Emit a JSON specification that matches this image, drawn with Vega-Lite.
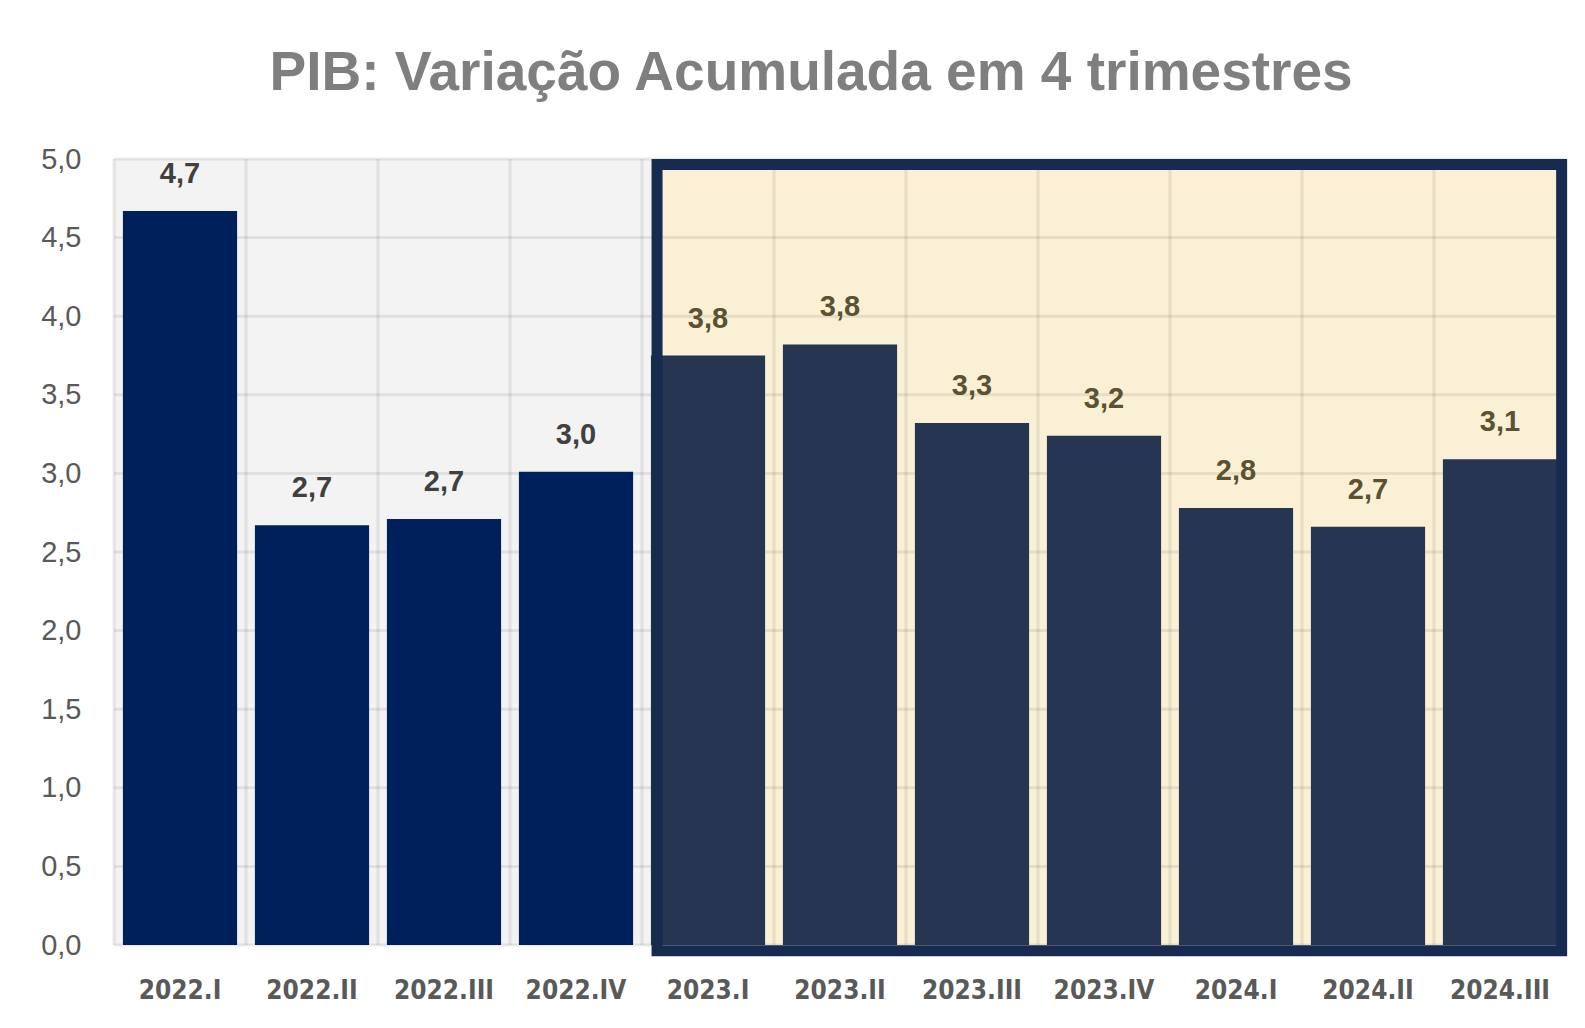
{
  "$schema": "https://vega.github.io/schema/vega-lite/v6.json",
  "autosize": {"type": "none"},
  "width": 1452,
  "height": 786,
  "padding": {"left": 114, "top": 159, "right": 19, "bottom": 83},
  "background": "white",
  "title": {
    "text": "PIB: Variação Acumulada em 4 trimestres",
    "font": "Liberation Sans",
    "fontSize": 55,
    "fontWeight": "bold",
    "color": "#7f7f7f",
    "anchor": "middle",
    "frame": "bounds",
    "baseline": "alphabetic",
    "offset": 0,
    "dx": 7
  },
  "datasets": {
    "pib": [
      {"trimestre": "2022.I", "valor": 4.67, "periodo": "2022"},
      {"trimestre": "2022.II", "valor": 2.67, "periodo": "2022"},
      {"trimestre": "2022.III", "valor": 2.71, "periodo": "2022"},
      {"trimestre": "2022.IV", "valor": 3.01, "periodo": "2022"},
      {"trimestre": "2023.I", "valor": 3.75, "periodo": "destaque"},
      {"trimestre": "2023.II", "valor": 3.82, "periodo": "destaque"},
      {"trimestre": "2023.III", "valor": 3.32, "periodo": "destaque"},
      {"trimestre": "2023.IV", "valor": 3.24, "periodo": "destaque"},
      {"trimestre": "2024.I", "valor": 2.78, "periodo": "destaque"},
      {"trimestre": "2024.II", "valor": 2.66, "periodo": "destaque"},
      {"trimestre": "2024.III", "valor": 3.09, "periodo": "destaque"}
    ],
    "regioes": [
      {"inicio": 0, "fim": 4.114, "regiao": "2022"},
      {"inicio": 4.114, "fim": 11, "regiao": "destaque"}
    ],
    "grade_h": [
      {"v": 0}, {"v": 0.5}, {"v": 1}, {"v": 1.5}, {"v": 2}, {"v": 2.5},
      {"v": 3}, {"v": 3.5}, {"v": 4}, {"v": 4.5}, {"v": 5}
    ],
    "grade_v": [
      {"b": 0}, {"b": 1}, {"b": 2}, {"b": 3}, {"b": 4}, {"b": 5},
      {"b": 6}, {"b": 7}, {"b": 8}, {"b": 9}, {"b": 10}
    ],
    "moldura": [
      {"inicio": 4.114, "fim": 10.967, "base": -0.037, "topo": 4.965}
    ]
  },
  "layer": [
    {
      "data": {"name": "regioes"},
      "mark": {"type": "rect"},
      "encoding": {
        "x": {"field": "inicio", "type": "quantitative", "scale": {"domain": [0, 11], "nice": false, "zero": false}, "axis": null},
        "x2": {"field": "fim"},
        "y": {"datum": 0, "type": "quantitative", "title": null},
        "y2": {"datum": 5},
        "color": {"condition": {"test": "datum.regiao === '2022'", "value": "#f3f3f3"}, "value": "#faf0d5"}
      }
    },
    {
      "data": {"name": "grade_h"},
      "mark": {"type": "rule", "color": "#000000", "opacity": 0.08, "strokeWidth": 3},
      "encoding": {
        "y": {"field": "v", "type": "quantitative", "title": null}
      }
    },
    {
      "data": {"name": "grade_v"},
      "mark": {"type": "rule", "color": "#000000", "opacity": 0.08, "strokeWidth": 3},
      "encoding": {
        "x": {"field": "b", "type": "quantitative", "scale": {"domain": [0, 11], "nice": false, "zero": false}, "axis": null}
      }
    },
    {
      "data": {"name": "pib"},
      "mark": {"type": "bar", "width": {"band": 0.865}},
      "encoding": {
        "x": {
          "field": "trimestre", "type": "nominal", "sort": null,
          "scale": {"paddingInner": 0, "paddingOuter": 0},
          "axis": {
            "title": null, "ticks": false, "domain": false, "labelAngle": 0,
            "labelFont": "DejaVu Sans Condensed", "labelFontWeight": "bold",
            "labelFontSize": 26, "labelColor": "#595959",
            "labelBaseline": "middle", "labelPadding": 45
          }
        },
        "y": {
          "field": "valor", "type": "quantitative",
          "scale": {"domain": [0, 5], "nice": false},
          "title": null,
          "axis": {
            "values": [0, 0.5, 1, 1.5, 2, 2.5, 3, 3.5, 4, 4.5, 5],
            "format": ".1f", "grid": false, "ticks": false, "domain": false,
            "labelFont": "Liberation Sans", "labelFontSize": 29,
            "labelColor": "#595959", "labelPadding": 33
          }
        },
        "color": {"condition": {"test": "datum.periodo === '2022'", "value": "#00205b"}, "value": "#263551"}
      }
    },
    {
      "data": {"name": "pib"},
      "mark": {"type": "text", "dy": -37, "baseline": "middle", "font": "Liberation Sans", "fontWeight": "bold", "fontSize": 29},
      "encoding": {
        "x": {"field": "trimestre", "type": "nominal", "sort": null, "scale": {"paddingInner": 0, "paddingOuter": 0}, "axis": null},
        "y": {"field": "valor", "type": "quantitative", "title": null},
        "text": {"field": "valor", "type": "quantitative", "format": ".1f"},
        "color": {"condition": {"test": "datum.periodo === '2022'", "value": "#404040"}, "value": "#5a5233"}
      }
    },
    {
      "data": {"name": "moldura"},
      "mark": {"type": "rect", "filled": false, "stroke": "#172b50", "strokeWidth": 11},
      "encoding": {
        "x": {"field": "inicio", "type": "quantitative", "scale": {"domain": [0, 11], "nice": false, "zero": false}, "axis": null},
        "x2": {"field": "fim"},
        "y": {"field": "base", "type": "quantitative", "title": null},
        "y2": {"field": "topo"}
      }
    }
  ],
  "resolve": {"scale": {"x": "independent"}, "axis": {"x": "independent"}},
  "config": {
    "locale": {"number": {"decimal": ",", "thousands": ".", "grouping": [3], "currency": ["R$", ""]}},
    "view": {"stroke": null}
  }
}
